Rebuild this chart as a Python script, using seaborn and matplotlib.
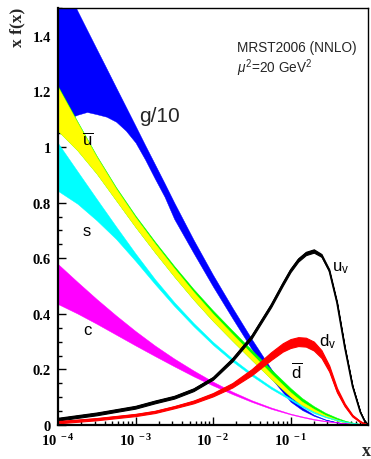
import numpy as np
import pandas as pd
import matplotlib
matplotlib.use("Agg")
import matplotlib.pyplot as plt
import seaborn as sns
from matplotlib.ticker import MultipleLocator, LogLocator, NullFormatter

# ---------------- data ----------------
# gluon/10 band on its own (finer at small x) grid
x_glu = [1.0e-4, 1.33e-4, 1.78e-4, 2.37e-4, 3.16e-4, 4.22e-4, 5.62e-4, 7.50e-4,
         1.0e-3, 1.33e-3, 1.78e-3, 2.37e-3, 3.16e-3, 5.62e-3, 1.0e-2, 1.78e-2,
         3.16e-2, 5.62e-2, 0.1, 0.141, 0.2, 0.282, 0.398, 0.501, 0.631, 0.794, 1.0]
g10_hi = [1.630, 1.566, 1.490, 1.421, 1.352, 1.283, 1.214, 1.145, 1.076, 1.007,
          0.938, 0.870, 0.800, 0.666, 0.540, 0.422, 0.309, 0.202, 0.106, 0.063,
          0.037, 0.020, 0.010, 0.006, 0.0035, 0.0015, 0.0]
g10_lo = [1.083, 1.101, 1.116, 1.126, 1.118, 1.109, 1.091, 1.059, 1.016, 0.955,
          0.886, 0.821, 0.741, 0.618, 0.498, 0.384, 0.273, 0.169, 0.084, 0.054,
          0.033, 0.0185, 0.0095, 0.006, 0.0035, 0.0015, 0.0]

# sea-quark grid in x
x_sea = [1.0e-4, 1.78e-4, 3.16e-4, 5.62e-4, 1.0e-3, 1.78e-3, 3.16e-3, 5.62e-3,
         1.0e-2, 1.78e-2, 3.16e-2, 5.62e-2, 0.1, 0.141, 0.2, 0.282, 0.398,
         0.501, 0.631, 0.794, 1.0]

dbar_hi = [1.219, 1.092, 0.968, 0.855, 0.753, 0.660, 0.572, 0.489, 0.412, 0.340,
           0.270, 0.200, 0.133, 0.097, 0.068, 0.044, 0.026, 0.016, 0.009, 0.004, 0.0]
ubar_hi = [1.215, 1.088, 0.964, 0.850, 0.747, 0.653, 0.564, 0.479, 0.400, 0.327,
           0.256, 0.185, 0.118, 0.084, 0.058, 0.036, 0.020, 0.012, 0.007, 0.003, 0.0]
ubar_lo = [1.058, 0.988, 0.904, 0.808, 0.712, 0.621, 0.534, 0.451, 0.374, 0.303,
           0.234, 0.166, 0.102, 0.071, 0.049, 0.030, 0.016, 0.010, 0.006, 0.0025, 0.0]

s_hi = [1.014, 0.913, 0.813, 0.714, 0.617, 0.525, 0.442, 0.367, 0.299, 0.239,
        0.186, 0.138, 0.096, 0.070, 0.047, 0.031, 0.019, 0.013, 0.008, 0.004, 0.0]
s_lo = [0.842, 0.796, 0.736, 0.669, 0.590, 0.507, 0.428, 0.355, 0.288, 0.229,
        0.177, 0.130, 0.090, 0.065, 0.043, 0.028, 0.017, 0.011, 0.007, 0.003, 0.0]

c_hi = [0.579, 0.515, 0.453, 0.394, 0.338, 0.286, 0.239, 0.196, 0.156, 0.120,
        0.089, 0.063, 0.041, 0.031, 0.022, 0.015, 0.010, 0.007, 0.0045, 0.002, 0.0]
c_lo = [0.435, 0.401, 0.364, 0.325, 0.286, 0.248, 0.211, 0.175, 0.142, 0.111,
        0.083, 0.058, 0.038, 0.028, 0.019, 0.013, 0.0085, 0.006, 0.0035, 0.0015, 0.0]

# valence grid in x
x_val = [1.0e-4, 3.16e-4, 1.0e-3, 1.78e-3, 3.16e-3, 5.62e-3, 1.0e-2, 1.78e-2,
         3.16e-2, 5.62e-2, 7.94e-2, 0.1, 0.126, 0.158, 0.2, 0.251, 0.316, 0.398,
         0.501, 0.631, 0.794, 0.891, 1.0]
uv_mid = [0.021, 0.040, 0.064, 0.083, 0.100, 0.127, 0.168, 0.235, 0.318, 0.430,
          0.507, 0.556, 0.594, 0.617, 0.626, 0.610, 0.556, 0.440, 0.280, 0.140,
          0.047, 0.018, 0.0]
uv_err = [0.005, 0.005, 0.005, 0.005, 0.005, 0.005, 0.005, 0.006, 0.006, 0.006,
          0.006, 0.006, 0.006, 0.006, 0.006, 0.005, 0.004, 0.003, 0.002, 0.001,
          0.0005, 0.0, 0.0]
dv_mid = [0.010, 0.021, 0.036, 0.047, 0.064, 0.083, 0.109, 0.143, 0.190, 0.248,
          0.279, 0.293, 0.300, 0.298, 0.284, 0.255, 0.203, 0.125, 0.072, 0.033,
          0.012, 0.005, 0.0]
dv_err = [0.004, 0.004, 0.004, 0.004, 0.004, 0.005, 0.006, 0.008, 0.011, 0.014,
          0.015, 0.016, 0.016, 0.016, 0.016, 0.014, 0.011, 0.008, 0.005, 0.003,
          0.0015, 0.0005, 0.0]

y_ticks = [0.0, 0.2, 0.4, 0.6, 0.8, 1.0, 1.2, 1.4]
y_ticklabels = ["0", "0.2", "0.4", "0.6", "0.8", "1", "1.2", "1.4"]
x_ticks = [1e-4, 1e-3, 1e-2, 1e-1]
x_ticklabels = [r"$\mathbf{10^{\ -4}}$", r"$\mathbf{10^{\ -3}}$",
                r"$\mathbf{10^{\ -2}}$", r"$\mathbf{10^{\ -1}}$"]

# ---------------- style ----------------
sns.set_theme(style="ticks")
plt.rcParams.update({
    "font.family": ["Liberation Sans", "DejaVu Sans"],
    "mathtext.fontset": "custom",
    "mathtext.rm": "Liberation Sans",
    "mathtext.it": "Liberation Sans:italic",
    "mathtext.bf": "Liberation Serif:bold",
    "mathtext.sf": "Liberation Sans",
})

fig = plt.figure(figsize=(3.71, 4.60), dpi=100)
ax = fig.add_axes([58 / 371, 1 - 426 / 460, 310 / 371, 417 / 460])
ax.set_facecolor("white")

glu = pd.DataFrame({"x": x_glu, "g_hi": g10_hi, "g_lo": g10_lo})
sea = pd.DataFrame({"x": x_sea,
                    "db_hi": dbar_hi, "ub_hi": ubar_hi, "ub_lo": ubar_lo,
                    "s_hi": s_hi, "s_lo": s_lo, "c_hi": c_hi, "c_lo": c_lo})
val = pd.DataFrame({"x": x_val, "uv": uv_mid, "uve": uv_err,
                    "dv": dv_mid, "dve": dv_err})

def band(lo, hi, color, data):
    ax.fill_between(data["x"], data[lo], data[hi], color=color, lw=0.3,
                    edgecolor=color, zorder=2)

band("g_lo", "g_hi", "#0000ff", glu)
band("ub_lo", "db_hi", "#00ff00", sea)
band("ub_lo", "ub_hi", "#ffff00", sea)
band("s_lo", "s_hi", "#00ffff", sea)
band("c_lo", "c_hi", "#ff00ff", sea)

for mid, err, col in [("uv", "uve", "black"), ("dv", "dve", "#ff0000")]:
    lo = val[mid] - val[err]
    hi = val[mid] + val[err]
    ax.fill_between(val["x"], lo, hi, facecolor=col, edgecolor=col,
                    lw=0.8, zorder=3)
    sns.lineplot(x=val["x"], y=val[mid], color=col, lw=1.2, ax=ax, zorder=3)

ax.set_xscale("log")
ax.set_xlim(1e-4, 1.0)
ax.set_ylim(0, 1.5)
ax.set_xlabel("")
ax.set_ylabel("")

ax.set_yticks(y_ticks)
ax.set_yticklabels(y_ticklabels, fontfamily="Liberation Serif",
                   fontweight="bold", fontsize=10.5)
ax.yaxis.set_minor_locator(MultipleLocator(0.05))
ax.set_xticks(x_ticks)
ax.set_xticklabels(x_ticklabels, fontsize=10.5)
ax.xaxis.set_minor_locator(LogLocator(base=10, subs=np.arange(2, 10)))
ax.xaxis.set_minor_formatter(NullFormatter())
ax.tick_params(which="both", direction="in", top=False, right=False,
               color="black", width=1.0, labelcolor="black")
ax.tick_params(which="major", length=6, pad=5)
ax.tick_params(which="minor", length=3)

for side in ["left", "bottom"]:
    ax.spines[side].set_linewidth(1.6)
for side in ["top", "right"]:
    ax.spines[side].set_linewidth(1.0)
for sp in ax.spines.values():
    sp.set_color("black")
    sp.set_zorder(5)

# curve labels
lab = dict(fontsize=12, color="black", ha="center", va="center", zorder=6)
ax.text(2.05e-3, 1.115, "g/10", fontsize=15, ha="center", va="center")
ax.text(2.44e-4, 1.03, r"$\overline{\mathrm{u}}$", **lab)
ax.text(2.37e-4, 0.698, "s", **lab)
ax.text(2.37e-4, 0.345, "c", **lab)
ax.text(0.44, 0.568, r"$\mathrm{u}_{\mathrm{v}}$", **lab)
ax.text(0.30, 0.302, r"$\mathrm{d}_{\mathrm{v}}$", **lab)
ax.text(0.121, 0.196, r"$\overline{\mathrm{d}}$", **lab)

ax.text(0.0204, 1.345, "MRST2006 (NNLO)", fontsize=9.8, ha="left", va="baseline")
ax.text(0.0204, 1.27, r"$\mu^2$=20 GeV$^2$", fontsize=9.8, ha="left", va="baseline")

fig.text(17 / 371, 1 - 8 / 460, "x f(x)", rotation=90, ha="center", va="top",
         fontfamily="Liberation Serif", fontweight="bold", fontsize=12.5)
fig.text(366 / 371, 1 - 452 / 460, "x", ha="center", va="center",
         fontfamily="Liberation Serif", fontweight="bold", fontsize=13)

fig.savefig("out.png", dpi=100, facecolor="white")
